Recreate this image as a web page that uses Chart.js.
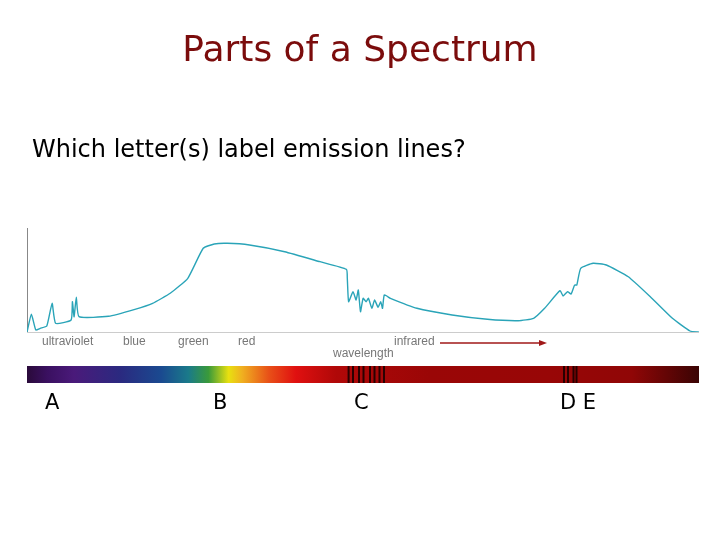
<!DOCTYPE html>
<html>
<head>
<meta charset="utf-8">
<script src="https://cdn.jsdelivr.net/npm/chart.js@4"></script>
<style>
  html, body { margin: 0; padding: 0; background: #fff; }
  #wrap { position: relative; width: 720px; height: 540px; }
</style>
</head>
<body>
<div id="wrap"><canvas id="spectrum" width="720" height="540"></canvas></div>
<script>
// spectrum curve (wavelength units 0..672, intensity 0..104)
const wavelength = [0, 4.4, 8.8, 13.2, 19.8, 25.1, 28.6, 44.1, 45.4, 47.1, 49.3, 52, 81.5, 107.9, 125.6, 143.2, 160.8, 176.2, 187.2, 200.4, 222.5, 257.7, 293, 319.4, 320.3, 321.6, 326, 329.1, 331.3, 333.5, 336.1, 339.2, 341.4, 344.9, 347.6, 351.1, 353.7, 355.5, 357.3, 363.4, 389.9, 425.1, 460.4, 491.2, 506.6, 517.6, 533, 536.1, 540.5, 544.1, 547.6, 549.8, 553.7, 566.1, 579.3, 601.3, 623.3, 645.4, 663, 671.8];
const intensity = [0, 17.7, 2, 3.7, 6, 28.7, 8.7, 12, 30.3, 15.3, 34.7, 15.3, 15.7, 22.7, 28.7, 38.7, 53.7, 83.7, 88, 88.7, 87, 80.3, 70.3, 62.7, 53.7, 30.3, 40.3, 32, 42, 20.3, 33.7, 30.3, 33.7, 23.7, 32, 24.7, 30.3, 23.7, 37, 33.7, 23.7, 17, 12.7, 11.3, 13.7, 23.7, 41.3, 36, 40.3, 38, 47, 47, 63.7, 68.7, 67, 55.3, 35.3, 13.7, 1, 0];

// band labels under the curve
const bandLabels = ["ultraviolet", "blue", "green", "red", "infrared"];
const bandLabelPos = [15, 96, 151, 211, 367];

// dark absorption lines in the colour band
const absorptionLines = [321.6, 326, 332, 336.5, 343, 347.5, 352.5, 357, 537, 541, 546.5, 549.5];

// answer letters
const letters = ["A", "B", "C", "D E"];
const letterPos = [18, 186, 327, 533];

const font = "'DejaVu Sans', Verdana, sans-serif";

const decor = {
    id: "decor",
    beforeDraw(chart) {
        const c = chart.ctx, a = chart.chartArea;
        c.save();
        c.fillStyle = "#7b0c0c";
        c.font = "36px " + font;
        c.textAlign = "center";
        c.textBaseline = "middle";
        c.fillText("Parts of a Spectrum", 360, 52);
        c.fillStyle = "#000";
        c.font = "24px " + font;
        c.textAlign = "left";
        c.fillText("Which letter(s) label emission lines?", 32, 151);
        // axes
        c.strokeStyle = "#888";
        c.lineWidth = 1;
        c.beginPath();
        c.moveTo(a.left + 0.5, a.top);
        c.lineTo(a.left + 0.5, a.bottom);
        c.stroke();
        c.strokeStyle = "#ccc";
        c.beginPath();
        c.moveTo(a.left, a.bottom + 0.5);
        c.lineTo(a.right, a.bottom + 0.5);
        c.stroke();
        c.restore();
    },
    afterDraw(chart) {
        const c = chart.ctx, a = chart.chartArea, x = chart.scales.x;
        c.save();
        c.font = "12px 'Liberation Sans', Arial, sans-serif";
        c.fillStyle = "#777";
        c.textBaseline = "middle";
        bandLabels.forEach((t, i) => c.fillText(t, x.getPixelForValue(bandLabelPos[i]), a.bottom + 10));
        c.fillText("wavelength", x.getPixelForValue(306), a.bottom + 22);
        // infrared arrow
        const ax0 = x.getPixelForValue(413), ax1 = x.getPixelForValue(520), ay = a.bottom + 11;
        c.strokeStyle = "#a01818";
        c.fillStyle = "#a01818";
        c.lineWidth = 1.5;
        c.beginPath(); c.moveTo(ax0, ay); c.lineTo(ax1 - 6, ay); c.stroke();
        c.beginPath(); c.moveTo(ax1, ay); c.lineTo(ax1 - 8, ay - 3); c.lineTo(ax1 - 8, ay + 3); c.closePath(); c.fill();
        // colour band
        const by = a.bottom + 34, bh = 17;
        const g = c.createLinearGradient(a.left, 0, a.right, 0);
        [[0, "#2a0a3a"], [0.03, "#3a1060"], [0.07, "#4a1a7a"], [0.14, "#2a2a80"], [0.2, "#1a4a90"],
         [0.24, "#1a7a8a"], [0.27, "#3a9a3a"], [0.3, "#e8e010"], [0.32, "#f0b020"], [0.36, "#e85018"],
         [0.4, "#e01010"], [0.46, "#b00808"], [0.6, "#9a0606"], [0.78, "#980606"], [0.9, "#900606"],
         [1, "#3a0404"]].forEach(s => g.addColorStop(s[0], s[1]));
        c.fillStyle = g;
        c.fillRect(a.left, by, a.right - a.left, bh);
        c.fillStyle = "rgba(20,0,0,0.85)";
        absorptionLines.forEach(w => c.fillRect(x.getPixelForValue(w) - 1, by, 2, bh));
        // letters
        c.fillStyle = "#000";
        c.font = "21px " + font;
        letters.forEach((t, i) => c.fillText(t, x.getPixelForValue(letterPos[i]), by + 38));
        c.restore();
    }
};

new Chart(document.getElementById("spectrum").getContext("2d"), {
    type: "line",
    data: {
        datasets: [{
            data: wavelength.map((w, i) => ({ x: w, y: intensity[i] })),
            borderColor: "#2aa4b8",
            borderWidth: 1.4,
            pointRadius: 0,
            tension: 0.15,
            fill: false
        }]
    },
    options: {
        responsive: false,
        animation: false,
        layout: { padding: { left: 27, right: 21, top: 228, bottom: 208 } },
        plugins: { legend: { display: false }, tooltip: { enabled: false } },
        scales: {
            x: { type: "linear", min: 0, max: 672, display: false },
            y: { min: 0, max: 104, display: false }
        }
    },
    plugins: [decor]
});
</script>
</body>
</html>
